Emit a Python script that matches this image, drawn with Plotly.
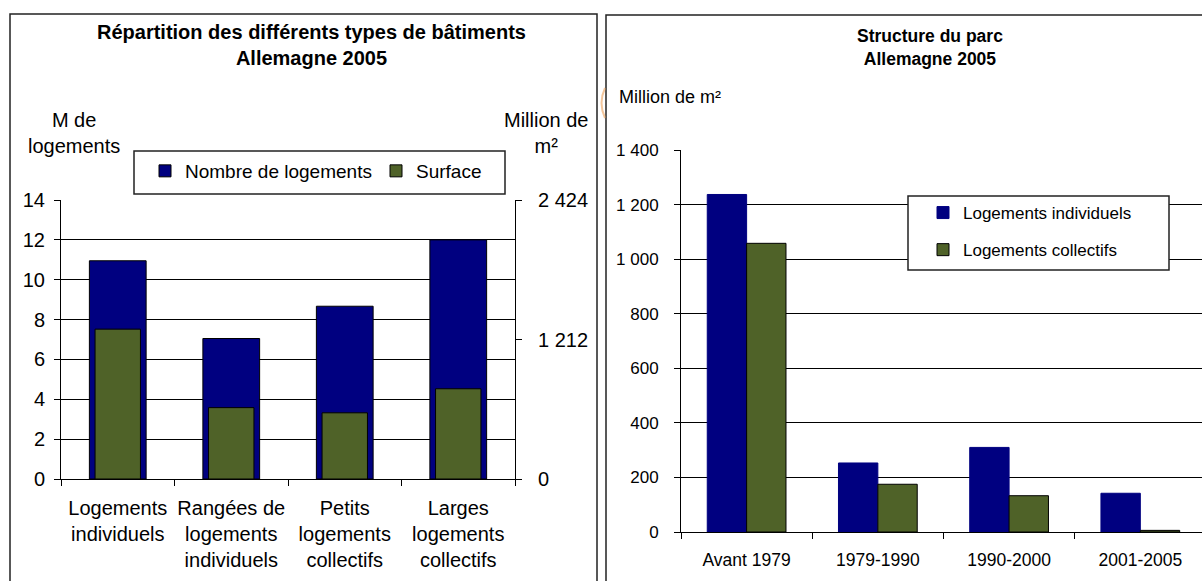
import plotly.graph_objects as go

W, H = 1202, 581

# graphique de gauche : répartition des types de bâtiments (Allemagne 2005)
types_bat = ["Logements<br>individuels", "Rangées de<br>logements<br>individuels",
             "Petits<br>logements<br>collectifs", "Larges<br>logements<br>collectifs"]
nb_logements = [10.95, 7.05, 8.67, 12.0]      # M de logements (axe gauche)
surface = [1302, 620, 575, 784]               # Million de m² (axe droit)
surf_ticks = [0, 1212, 2424]
surf_labels = ["0", "1 212", "2 424"]

# graphique de droite : structure du parc
periodes = ["Avant 1979", "1979-1990", "1990-2000", "2001-2005"]
individuels = [1237, 253, 310, 142]
collectifs = [1058, 175, 133, 6]
parc_ticks = [0, 200, 400, 600, 800, 1000, 1200, 1400]
parc_labels = ["0", "200", "400", "600", "800", "1 000", "1 200", "1 400"]

NAVY = "#000080"
OLIVE = "#4F6228"
FONT = "Liberation Sans, Arial, sans-serif"


# pixels -> coordonnées papier
def px(x):
    return x / W


def py(y):
    return 1 - y / H


fig = go.Figure()

fig.add_trace(go.Bar(
    x=types_bat, y=nb_logements, xaxis="x", yaxis="y", width=0.5,
    marker=dict(color=NAVY, line=dict(color="black", width=1)),
    name="Nombre de logements", legend="legend",
))
fig.add_trace(go.Bar(
    x=types_bat, y=surface, xaxis="x", yaxis="y2", width=0.4,
    marker=dict(color=OLIVE, line=dict(color="black", width=1)),
    name="Surface", legend="legend",
))
fig.add_trace(go.Bar(
    x=periodes, y=individuels, xaxis="x2", yaxis="y3",
    marker=dict(color=NAVY, line=dict(color=NAVY, width=1)),
    name="Logements individuels", legend="legend2", legendgroup="a",
))
fig.add_trace(go.Bar(
    x=periodes, y=collectifs, xaxis="x2", yaxis="y3",
    marker=dict(color=OLIVE, line=dict(color="black", width=1)),
    name="Logements collectifs", legend="legend2", legendgroup="b",
))

ax_common = dict(showline=True, linecolor="black", linewidth=1, ticks="outside",
                 tickcolor="black", ticklen=6, zeroline=False, fixedrange=True,
                 automargin=False)

fig.update_layout(
    template="none",
    width=W, height=H, margin=dict(l=0, r=0, t=0, b=0, pad=0),
    paper_bgcolor="white", plot_bgcolor="white",
    font=dict(family=FONT, color="black", size=18),
    barmode="group", bargap=0.4, bargroupgap=0,
    xaxis=dict(domain=[px(61), px(515)], anchor="y", type="category",
               range=[-0.5, 3.5], tickson="boundaries", showgrid=False, tickangle=0,
               tickfont=dict(size=20), ticklabelstandoff=11, **ax_common),
    yaxis=dict(domain=[py(479), py(200)], anchor="x", range=[0, 14], dtick=2,
               showgrid=True, gridcolor="black", gridwidth=1,
               tickfont=dict(size=20), ticklabelstandoff=5, **ax_common),
    yaxis2=dict(overlaying="y", side="right", anchor="x", range=[0, 2424],
                tickvals=surf_ticks, ticktext=surf_labels, showgrid=False,
                tickfont=dict(size=20), ticklabelstandoff=12, **ax_common),
    xaxis2=dict(domain=[px(681), 1], anchor="y3", type="category",
                range=[-0.5, 3.47], tickson="boundaries", showgrid=False, tickangle=0,
                tickfont=dict(size=17.5), ticklabelstandoff=12, **ax_common),
    yaxis3=dict(domain=[py(532), py(150)], anchor="x2", range=[0, 1400],
                tickvals=parc_ticks, ticktext=parc_labels,
                showgrid=True, gridcolor="black", gridwidth=1,
                tickfont=dict(size=17), ticklabelstandoff=12, **ax_common),
    legend=dict(orientation="h", x=px(145), y=py(152), xanchor="left", yanchor="top",
                bgcolor="rgba(0,0,0,0)", borderwidth=0, font=dict(size=19),
                entrywidth=186, entrywidthmode="pixels"),
    legend2=dict(orientation="v", x=px(923), y=py(195), xanchor="left", yanchor="top",
                 bgcolor="rgba(0,0,0,0)", borderwidth=0, tracegroupgap=12,
                 font=dict(size=17)),
)

# cadres des deux graphiques et des légendes
fig.add_shape(type="rect", xref="paper", yref="paper", x0=px(10), x1=px(597),
              y0=py(14), y1=-0.05, line=dict(color="#222", width=1.5))
fig.add_shape(type="rect", xref="paper", yref="paper", x0=px(606), x1=1.05,
              y0=py(15), y1=-0.05, line=dict(color="#222", width=1.5))
fig.add_shape(type="rect", xref="paper", yref="paper", x0=px(134), x1=px(505),
              y0=py(151), y1=py(194), fillcolor="white", layer="above",
              line=dict(color="#222", width=1.5))
fig.add_shape(type="rect", xref="paper", yref="paper", x0=px(908), x1=px(1169),
              y0=py(196), y1=py(270), fillcolor="white", layer="above",
              line=dict(color="#222", width=1.5))
# petit arc orangé visible entre les deux cadres
fig.add_shape(type="path", xref="paper", yref="paper",
              path=f"M {px(605)},{py(88)} Q {px(598)},{py(103)} {px(605)},{py(118)}",
              line=dict(color="rgba(235,160,90,0.6)", width=2))

# titres
txt = dict(xref="paper", yref="paper", showarrow=False, xanchor="center", yanchor="middle")
fig.add_annotation(x=px(311), y=py(45),
                   text="<b>Répartition des différents types de bâtiments<br>Allemagne 2005</b>",
                   font=dict(size=20), **txt)
fig.add_annotation(x=px(930), y=py(48), text="<b>Structure du parc<br>Allemagne 2005</b>",
                   font=dict(size=17.5), **txt)
fig.add_annotation(x=px(74), y=py(133), text="M de<br>logements", font=dict(size=20), **txt)
fig.add_annotation(x=px(546), y=py(133), text="Million de<br>m²", font=dict(size=20), **txt)
fig.add_annotation(x=px(617), y=py(97), text="Million de m²", font=dict(size=18),
                   xref="paper", yref="paper", showarrow=False, xanchor="left", yanchor="middle")

fig.write_html("out.html", config={"displayModeBar": False},
               post_script="document.body.style.margin='0';")
